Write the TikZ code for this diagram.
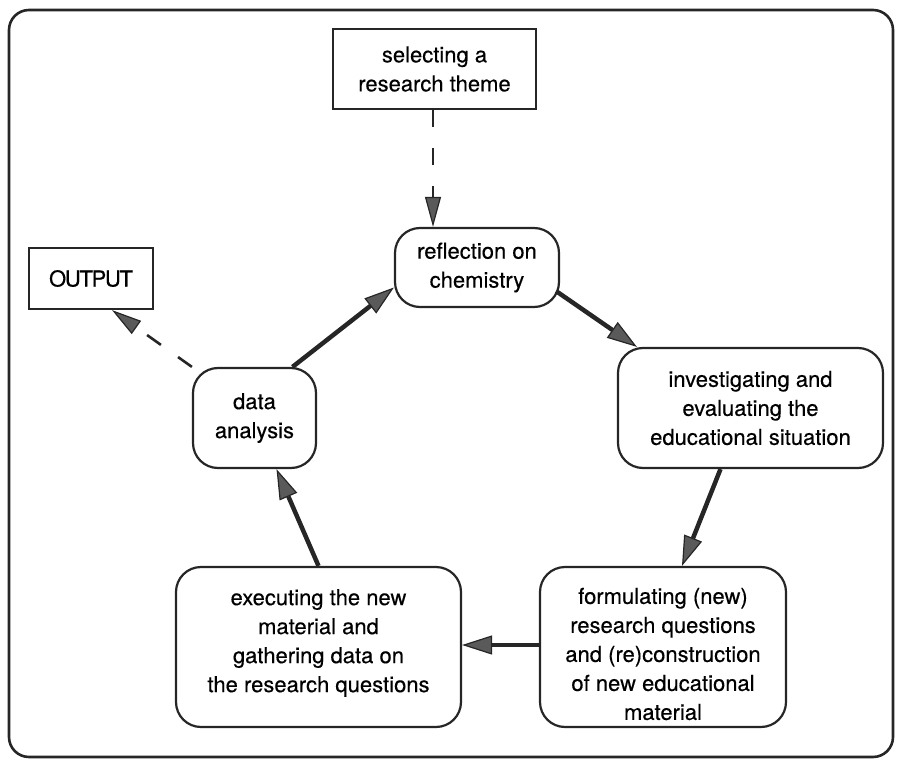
\documentclass[tikz,border=0pt]{standalone}
\usepackage{fontspec}
\setmainfont{TeX Gyre Heros}[FakeBold=0.35]
\usetikzlibrary{arrows.meta,calc}

\definecolor{inkdark}{HTML}{262626}
\definecolor{headfill}{HTML}{5A5A5A}

\tikzset{
  every node/.style={font=\fontsize{22}{29}\selectfont, align=center, text=black},
  plainbox/.style={draw=inkdark, line width=2.2pt, inner sep=0pt},
  roundbox/.style={plainbox, rounded corners=25pt},
  txt/.style={inner sep=0pt},
  flow/.style={draw=inkdark, line width=4.5pt,
    -{Triangle[length=30pt,width=19pt,fill=headfill,line width=1.2pt]}},
  side/.style={draw=inkdark, line width=2.6pt, dash pattern=on 17pt off 21pt,
    -{Triangle[length=30pt,width=16pt,fill=headfill,line width=1.2pt,sep=0pt]}},
}

\begin{document}
\begin{tikzpicture}[x=1pt,y=-1pt]
\useasboundingbox (0,0) rectangle (897,762);

% outer frame
\draw[draw=inkdark, line width=2.6pt, rounded corners=20pt] (9,10) rectangle (893,757);

% boxes
\node[plainbox, minimum width=203pt, minimum height=80pt] (theme) at (434.5,69)
  {selecting a\\research theme};
\node[roundbox, minimum width=164pt, minimum height=79pt] (refl) at (477,267.5)
  {reflection on\\chemistry};
\node[plainbox, minimum width=124pt, minimum height=61pt] (out) at (91,278.5)
  {\addfontfeature{LetterSpace=-6}OUTPUT};
\node[roundbox, minimum width=123pt, minimum height=100pt] (data) at (254.5,418)
  {data\\analysis};
\node[roundbox, minimum width=265pt, minimum height=120pt] (invest) at (750.5,408)
  {investigating and\\evaluating the\\educational situation};
\node[roundbox, minimum width=246pt, minimum height=160pt] (form) at (663,647) {};
\node[txt] (formtext) at (663,654)
  {formulating (new)\\research questions\\and (re)construction\\of new educational\\material};
\node[roundbox, minimum width=285pt, minimum height=160pt] (exec) at (318.5,647) {};
\node[txt] (exectext) at (318.5,643)
  {executing the new\\material and\\gathering data on\\the research questions};

% the research cycle
\draw[flow] ($(refl.south east)+(-4,-17)$) -- ($(invest.north west)+(20,0)$);
\draw[flow] ($(invest.south)+(-30,0)$) -- ($(form.north)+(19,0)$);
\draw[flow] (form.west |- 0,645) -- (exec.east |- 0,645);
\draw[flow] (exec.north) -- ($(data.south)+(22,0)$);
\draw[flow] ($(data.north)+(38,0)$) -- ($(refl.west)+(0,20)$);

% entry and exit
\draw[side] (theme.south -| 433,0) -- (refl.north -| 433,0);
\draw[side] (data.north west) -- ($(out.south)+(21,0)$);
\end{tikzpicture}
\end{document}
